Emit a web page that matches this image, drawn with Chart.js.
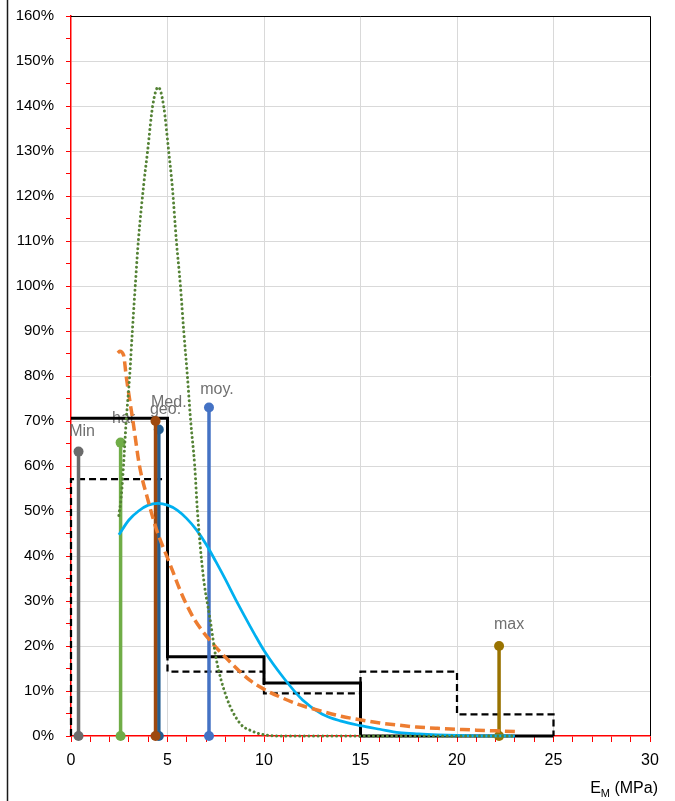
<!DOCTYPE html>
<html><head><meta charset="utf-8">
<script src="https://cdn.jsdelivr.net/npm/chart.js@4.4.0/dist/chart.umd.min.js"></script>
<style>html,body{margin:0;padding:0;background:#fff;}#wrap{position:relative;width:675px;height:801px;}</style>
</head><body><div id="wrap"><canvas id="c" width="675" height="801"></canvas></div>
<script>
// ---- data ----
const binEdges = [0, 5, 10, 15, 20, 25];
const histSolid = [70.6, 17.6, 11.8, 0, 0];
const histDashed = [57.1, 14.3, 9.5, 14.3, 4.8];

const statLabels = ['Min', 'har', 'geo.', 'Med.', 'moy.', 'max'];
const statX = [0.39, 2.57, 4.38, 4.55, 7.15, 22.18];
const statY = [63.2, 65.2, 70.0, 68.1, 73.0, 20.0];

const normalX = [2.48, 3, 3.5, 4, 4.5, 5, 5.5, 6, 6.5, 7, 7.5, 8, 8.5, 9, 9.5, 10, 11, 12, 13, 14, 15, 16, 17, 18, 19, 20, 21, 22, 23];
const normalY = [44.7, 48.0, 50.0, 51.3, 51.7, 51.3, 50.2, 48.3, 45.8, 42.6, 38.8, 34.8, 30.6, 26.6, 22.7, 19.0, 13.0, 8.0, 4.9, 3.3, 2.3, 1.5, 0.75, 0.45, 0.25, 0.12, 0.05, 0.02, 0];

const powerX = [2.43, 2.52, 2.72, 2.86, 3.04, 3.21, 3.55, 3.99, 4.42, 5.11, 5.72, 6.0, 6.41, 7.19, 8.23, 9.26, 10, 10.82, 11.86, 13, 14, 14.97, 16, 17, 17.9, 19, 19.99, 21, 22, 23];
const powerY = [85.1, 85.5, 84.7, 80, 74.7, 70, 60, 52.4, 46, 38.4, 31.7, 29.1, 25.8, 21.3, 16.5, 12.4, 10.4, 8.7, 6.9, 5.5, 4.4, 3.6, 2.9, 2.4, 2.0, 1.7, 1.5, 1.3, 1.15, 1.0];

const lognormX = [2.48, 2.6, 2.72, 2.86, 3.04, 3.18, 3.33, 3.49, 3.78, 3.97, 4.23, 4.52, 4.8, 5.06, 5.25, 5.46, 5.67, 5.84, 6.03, 6.2, 6.41, 6.55, 6.84, 7.19, 7.53, 8.05, 8.74, 9.43, 10.1, 11, 13, 16, 19, 22, 23];
const lognormY = [49, 53, 60, 70, 80, 90, 100, 110, 123, 130, 140, 144.2, 140, 130, 122, 110, 100, 90, 80, 70, 60, 50, 36, 26.4, 17, 8.7, 2.9, 1.0, 0.2, 0, 0, 0, 0, 0, 0];

const xTickValues = [0, 5, 10, 15, 20, 25, 30];
const yTickValues = [0, 10, 20, 30, 40, 50, 60, 70, 80, 90, 100, 110, 120, 130, 140, 150, 160];

// ---- styles (not data) ----
const statColors = ['#6b6b6b', '#70ad47', '#9e480e', '#255e91', '#4472c4', '#997300'];
const labelOffsets = [[3.5, -20], [3, -24], [10, -11], [10, -27], [8, -18], [10, -21]];
const FONT = '"Liberation Sans", Arial, sans-serif';

function pts(xs, ys) { return xs.map((x, i) => ({ x: x, y: ys[i] })); }
function steps(edges, h, startAtZero) {
  const out = [];
  if (startAtZero) out.push({ x: edges[0], y: 0 });
  for (let i = 0; i < h.length; i++) {
    out.push({ x: edges[i], y: h[i] });
    out.push({ x: edges[i + 1], y: h[i] });
  }
  out.push({ x: edges[edges.length - 1], y: 0 });
  return out;
}

const datasets = [];
datasets.push({ label: 'lognormal', data: pts(lognormX, lognormY), borderColor: '#548235', borderWidth: 3,
  borderDash: [0.01, 4.6], borderCapStyle: 'round', cubicInterpolationMode: 'monotone', pointRadius: 0, showLine: true, clip: false });
datasets.push({ label: 'power', data: pts(powerX, powerY), borderColor: '#ed7d31', borderWidth: 3.5,
  borderDash: [10, 5], cubicInterpolationMode: 'monotone', pointRadius: 0, showLine: true, clip: false });
datasets.push({ label: 'normal', data: pts(normalX, normalY), borderColor: '#00b0f0', borderWidth: 2.75,
  cubicInterpolationMode: 'monotone', pointRadius: 0, showLine: true, clip: false });
const stemOrder = [2, 3, 0, 1, 4, 5];
stemOrder.forEach(i => {
  datasets.push({ label: statLabels[i], data: [{ x: statX[i], y: 0 }, { x: statX[i], y: statY[i] }],
    borderColor: statColors[i], borderWidth: 3.5, pointRadius: 5, pointBackgroundColor: statColors[i],
    pointBorderWidth: 0, showLine: true, clip: false });
});
datasets.push({ label: 'hist', data: steps(binEdges, histSolid, false), borderColor: '#000', borderWidth: 3,
  pointRadius: 0, showLine: true, tension: 0, clip: false });
datasets.push({ label: 'hist2', data: steps(binEdges, histDashed, true), borderColor: '#000', borderWidth: 2.25,
  borderDash: [7, 4], pointRadius: 0, showLine: true, tension: 0, clip: false });

const decor = {
  id: 'decor',
  beforeDatasetsDraw(chart) {
    const { ctx, chartArea: a, scales } = chart;
    ctx.save();
    ctx.strokeStyle = '#000'; ctx.lineWidth = 1;
    ctx.beginPath();
    ctx.moveTo(a.left, a.top + 0.5); ctx.lineTo(a.right + 0.5, a.top + 0.5);
    ctx.lineTo(a.right + 0.5, a.bottom);
    ctx.stroke();
    // stat labels
    ctx.font = '16px ' + FONT; ctx.fillStyle = '#707070';
    ctx.textAlign = 'center'; ctx.textBaseline = 'middle';
    [0, 1, 3, 2, 4, 5].forEach(i => {
      const px = scales.x.getPixelForValue(statX[i]) + labelOffsets[i][0];
      const py = scales.y.getPixelForValue(statY[i]) + labelOffsets[i][1];
      ctx.fillText(statLabels[i], px, py);
    });
    ctx.restore();
  },
  afterDraw(chart) {
    const { ctx } = chart;
    ctx.save();
    // outer frame line
    ctx.strokeStyle = '#1a1a1a'; ctx.lineWidth = 1.5;
    ctx.beginPath(); ctx.moveTo(7.5, 0); ctx.lineTo(7.5, 801); ctx.stroke();
    // x axis title E_M (MPa)
    ctx.fillStyle = '#000'; ctx.textBaseline = 'alphabetic'; ctx.textAlign = 'left';
    const big = '16px ' + FONT, small = '11px ' + FONT;
    ctx.font = big; const wE = ctx.measureText('E').width; const wP = ctx.measureText(' (MPa)').width;
    ctx.font = small; const wM = ctx.measureText('M').width;
    let x0 = 658 - (wE + wM + wP);
    ctx.font = big; ctx.fillText('E', x0, 793);
    ctx.font = small; ctx.fillText('M', x0 + wE, 797);
    ctx.font = big; ctx.fillText(' (MPa)', x0 + wE + wM, 793);
    ctx.restore();
  }
};

new Chart(document.getElementById('c'), {
  type: 'scatter',
  data: { datasets: datasets },
  options: {
    responsive: false, animation: false, events: [],
    layout: { padding: { top: 16, right: 25, left: 0, bottom: 0 } },
    plugins: { legend: { display: false }, tooltip: { enabled: false } },
    scales: {
      x: {
        type: 'linear', min: 0, max: 30,
        afterFit(s) { s.height = 65; s.paddingLeft = 0; s.paddingRight = 0; },
        ticks: { stepSize: 1, autoSkip: false, maxRotation: 0, padding: 9,
          callback: v => xTickValues.includes(v) ? String(v) : '',
          font: { size: 16, family: FONT }, color: '#000' },
        grid: { color: c => (c.tick && c.tick.value % 5 === 0 && c.tick.value !== 0) ? '#d9d9d9' : 'rgba(0,0,0,0)',
          tickColor: '#ff0000', tickLength: 6, lineWidth: 1 },
        border: { color: '#ff0000', width: 1.5 }
      },
      y: {
        type: 'linear', min: 0, max: 160,
        afterFit(s) { s.width = 71; s.paddingTop = 0; s.paddingBottom = 0; },
        ticks: { stepSize: 5, autoSkip: false, padding: 12,
          callback: v => yTickValues.includes(v) ? v + '%' : '',
          font: { size: 15, family: FONT }, color: '#000' },
        grid: { color: c => (c.tick && c.tick.value % 10 === 0 && c.tick.value !== 0 && c.tick.value !== 160) ? '#d9d9d9' : 'rgba(0,0,0,0)',
          tickColor: '#ff0000', tickLength: 5, lineWidth: 1 },
        border: { color: '#ff0000', width: 1.5 }
      }
    }
  },
  plugins: [decor]
});
</script></body></html>
